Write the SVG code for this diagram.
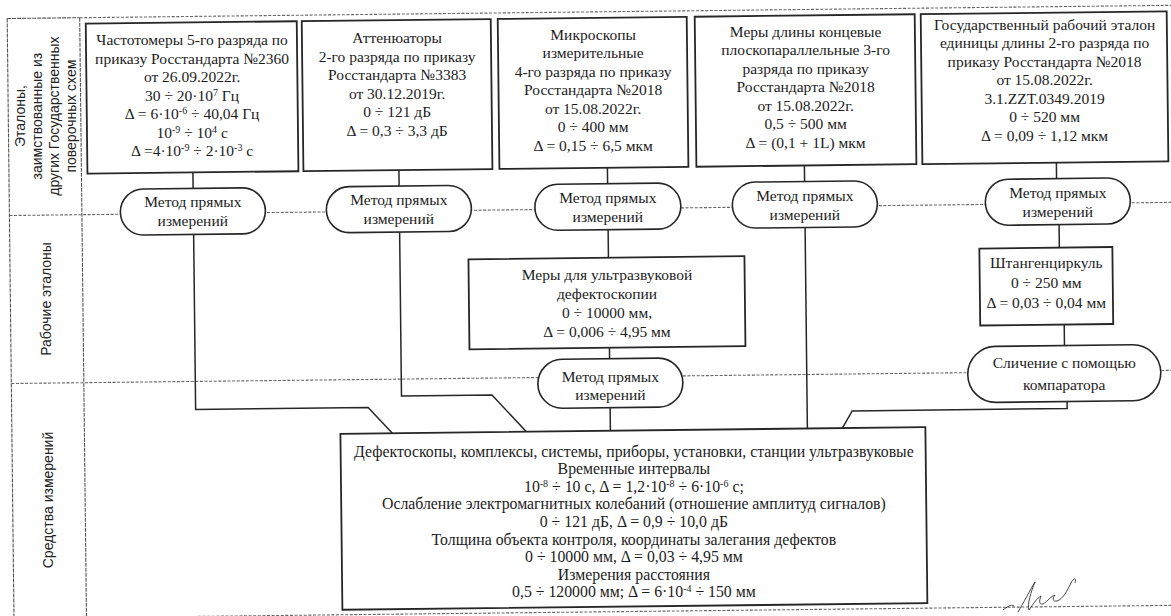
<svg xmlns="http://www.w3.org/2000/svg" width="1171" height="616" viewBox="0 0 1171 616">
<style>
.bx{fill:#fff;stroke:#262626;stroke-width:1.8}
.ov{fill:#fff;stroke:#262626;stroke-width:1.6}
.cn{fill:none;stroke:#262626;stroke-width:1.5}
.dv{fill:none;stroke:#666;stroke-width:1.1;stroke-dasharray:3 1.6}
.fr{fill:none;stroke:#555;stroke-width:1.1;stroke-dasharray:4 1}
.t{font-family:"Liberation Serif","Times New Roman",serif;font-size:15.5px;fill:#1c1c1c;text-anchor:middle}
.tb{font-size:15.8px}
.l{font-family:"Liberation Sans",Arial,sans-serif;font-size:14px;fill:#222;text-anchor:middle}
.sp{font-size:10px}
</style>
<rect width="1171" height="616" fill="#fff"/>
<g id="grid" transform="rotate(-0.65 585 308)">
<path class="dv" d="M83 12H1190M10.5 209H1190M10.5 377H1190M10.5 612H1190"/>
<path class="fr" d="M10.5 12H83M10.5 12V630M83 12V630"/>
</g>
<g id="lane-labels">
<g transform="translate(-2.2 6.1)">
<text class="l" transform="translate(27 110) rotate(-90)">Эталоны,</text>
<text class="l" transform="translate(44 110) rotate(-90)">заимствованные из</text>
<text class="l" transform="translate(61 110) rotate(-90)">других Государственных</text>
<text class="l" transform="translate(78 110) rotate(-90)">поверочных схем</text>
</g>
<text class="l" transform="translate(51 299) rotate(-90)">Рабочие эталоны</text>
<text class="l" transform="translate(53 500) rotate(-90)">Средства измерений</text>
</g>
<g id="connectors" transform="rotate(-0.65 585 308)">
<path class="cn" d="M194.5 168V184M194.5 230V405H367L391 431"/>
<path class="cn" d="M400.5 168V184M400.5 230V394H491L525 431"/>
<path class="cn" d="M609 167V184M609 230V258M609 348V359M609 408V431"/>
<path class="cn" d="M806 168V184M806 230V431"/>
<path class="cn" d="M1058 168V184M1060 230V253M1064 330V351M1066 407V414H851L841 431"/>
</g>
<g id="b1">
<rect class="bx" transform="rotate(-0.65 585 308)" x="89" y="18" width="211" height="150"/>
<g transform="translate(-2.4 4.4)">
<text class="t" x="194.5" y="41">Частотомеры 5-го разряда по</text>
<text class="t" x="194.5" y="59.5">приказу Росстандарта №2360</text>
<text class="t" x="194.5" y="78">от 26.09.2022г.</text>
<text class="t" x="194.5" y="96.5">30 ÷ 20·10<tspan class="sp" dy="-5">7</tspan><tspan dy="5"> Гц</tspan></text>
<text class="t" x="194.5" y="115">Δ = 6·10<tspan class="sp" dy="-5">-6</tspan><tspan dy="5"> ÷ 40,04 Гц</tspan></text>
<text class="t" x="194.5" y="133.5">10<tspan class="sp" dy="-5">-9</tspan><tspan dy="5"> ÷ 10</tspan><tspan class="sp" dy="-5">4</tspan><tspan dy="5"> с</tspan></text>
<text class="t" x="194.5" y="152">Δ =4·10<tspan class="sp" dy="-5">-9</tspan><tspan dy="5"> ÷ 2·10</tspan><tspan class="sp" dy="-5">-3</tspan><tspan dy="5"> с</tspan></text>
</g>
</g>
<g id="b2">
<rect class="bx" transform="rotate(-0.65 585 308)" x="305" y="18" width="189" height="150"/>
<g transform="translate(-2.4 2.1)">
<text class="t" x="399.5" y="41">Аттенюаторы</text>
<text class="t" x="399.5" y="59.5">2-го разряда по приказу</text>
<text class="t" x="399.5" y="78">Росстандарта №3383</text>
<text class="t" x="399.5" y="96.5">от 30.12.2019г.</text>
<text class="t" x="399.5" y="115">0 ÷ 121 дБ</text>
<text class="t" x="399.5" y="133.5">Δ = 0,3 ÷ 3,3 дБ</text>
</g>
</g>
<g id="b3">
<rect class="bx" transform="rotate(-0.65 585 308)" x="501" y="18" width="189" height="150"/>
<g transform="translate(-2.4 -0.1)">
<text class="t" x="595.5" y="40">Микроскопы</text>
<text class="t" x="595.5" y="58.5">измерительные</text>
<text class="t" x="595.5" y="77">4-го разряда по приказу</text>
<text class="t" x="595.5" y="95.5">Росстандарта №2018</text>
<text class="t" x="595.5" y="114">от 15.08.2022г.</text>
<text class="t" x="595.5" y="132.5">0 ÷ 400 мм</text>
<text class="t" x="595.5" y="151">Δ = 0,15 ÷ 6,5 мкм</text>
</g>
</g>
<g id="b4">
<rect class="bx" transform="rotate(-0.65 585 308)" x="698" y="18" width="220" height="150"/>
<g transform="translate(-2.4 -2.5)">
<text class="t" x="808" y="39">Меры длины концевые</text>
<text class="t" x="808" y="57.5">плоскопараллельные 3-го</text>
<text class="t" x="808" y="76">разряда по приказу</text>
<text class="t" x="808" y="94.5">Росстандарта №2018</text>
<text class="t" x="808" y="113">от 15.08.2022г.</text>
<text class="t" x="808" y="131.5">0,5 ÷ 500 мм</text>
<text class="t" x="808" y="150">Δ = (0,1 + 1L) мкм</text>
</g>
</g>
<g id="b5">
<rect class="bx" transform="rotate(-0.65 585 308)" x="924" y="18" width="246" height="150"/>
<g transform="translate(-2.4 -5.2)">
<text class="t" x="1047" y="35">Государственный рабочий эталон</text>
<text class="t" x="1047" y="53.5">единицы длины 2-го разряда по</text>
<text class="t" x="1047" y="72">приказу Росстандарта №2018</text>
<text class="t" x="1047" y="90.5">от 15.08.2022г.</text>
<text class="t" x="1047" y="109">3.1.ZZT.0349.2019</text>
<text class="t" x="1047" y="127.5">0 ÷ 520 мм</text>
<text class="t" x="1047" y="146">Δ = 0,09 ÷ 1,12 мкм</text>
</g>
</g>
<g id="o1">
<rect class="ov" transform="rotate(-0.65 585 308)" x="121.5" y="184" width="145" height="46" rx="23"/>
<g transform="translate(-1.2 4.4)">
<text class="t" x="194" y="203">Метод прямых</text>
<text class="t" x="194" y="222">измерений</text>
</g>
</g>
<g id="o2">
<rect class="ov" transform="rotate(-0.65 585 308)" x="327.5" y="184" width="145" height="46" rx="23"/>
<g transform="translate(-1.2 2.1)">
<text class="t" x="400" y="203">Метод прямых</text>
<text class="t" x="400" y="222">измерений</text>
</g>
</g>
<g id="o3">
<rect class="ov" transform="rotate(-0.65 585 308)" x="536" y="184" width="146" height="46" rx="23"/>
<g transform="translate(-1.2 -0.3)">
<text class="t" x="609" y="203">Метод прямых</text>
<text class="t" x="609" y="222">измерений</text>
</g>
</g>
<g id="o4">
<rect class="ov" transform="rotate(-0.65 585 308)" x="733.5" y="184" width="145" height="46" rx="23"/>
<g transform="translate(-1.2 -2.5)">
<text class="t" x="806" y="203">Метод прямых</text>
<text class="t" x="806" y="222">измерений</text>
</g>
</g>
<g id="o5">
<rect class="ov" transform="rotate(-0.65 585 308)" x="986.5" y="184" width="145" height="46" rx="23"/>
<g transform="translate(-1.2 -5.4)">
<text class="t" x="1059" y="203">Метод прямых</text>
<text class="t" x="1059" y="222">измерений</text>
</g>
</g>
<g id="m1">
<rect class="bx" transform="rotate(-0.65 585 308)" x="469" y="258" width="276" height="90"/>
<g transform="translate(0 -0.3)">
<text class="t" x="607" y="280">Меры для ультразвуковой</text>
<text class="t" x="607" y="299">дефектоскопии</text>
<text class="t" x="607" y="318">0 ÷ 10000 мм,</text>
<text class="t" x="607" y="337">Δ = 0,006 ÷ 4,95 мм</text>
</g>
</g>
<g id="o6">
<rect class="ov" transform="rotate(-0.65 585 308)" x="537" y="359" width="145" height="49" rx="24.5"/>
<g transform="translate(0.9 -0.3)">
<text class="t" x="609.5" y="382">Метод прямых</text>
<text class="t" x="609.5" y="400">измерений</text>
</g>
</g>
<g id="m2">
<rect class="bx" transform="rotate(-0.65 585 308)" x="980" y="253" width="133" height="77"/>
<g transform="translate(-0.2 -5.2)">
<text class="t" x="1046.5" y="273">Штангенциркуль</text>
<text class="t" x="1046.5" y="293">0 ÷ 250 мм</text>
<text class="t" x="1046.5" y="313">Δ = 0,03 ÷ 0,04 мм</text>
</g>
</g>
<g id="o7">
<rect class="ov" transform="rotate(-0.65 585 308)" x="967" y="351" width="193" height="56" rx="28"/>
<g transform="translate(0.8 -5.4)">
<text class="t" x="1063.5" y="373">Сличение с помощью</text>
<text class="t" x="1063.5" y="395">компаратора</text>
</g>
</g>
<g id="si">
<rect class="bx" transform="rotate(-0.65 585 308)" x="339" y="431" width="585" height="176"/>
<g transform="translate(2.4 -0.5)">
<text class="t tb" x="631.5" y="457">Дефектоскопы, комплексы, системы, приборы, установки, станции ультразвуковые</text>
<text class="t tb" x="631.5" y="474.6">Временные интервалы</text>
<text class="t tb" x="631.5" y="492.2">10<tspan class="sp" dy="-5">-8</tspan><tspan dy="5"> ÷ 10 с, Δ = 1,2·10</tspan><tspan class="sp" dy="-5">-8</tspan><tspan dy="5"> ÷ 6·10</tspan><tspan class="sp" dy="-5">-6</tspan><tspan dy="5"> с;</tspan></text>
<text class="t tb" x="631.5" y="509.8">Ослабление электромагнитных колебаний (отношение амплитуд сигналов)</text>
<text class="t tb" x="631.5" y="527.4">0 ÷ 121 дБ, Δ = 0,9 ÷ 10,0 дБ</text>
<text class="t tb" x="631.5" y="545">Толщина объекта контроля, координаты залегания дефектов</text>
<text class="t tb" x="631.5" y="562.6">0 ÷ 10000 мм, Δ = 0,03 ÷ 4,95 мм</text>
<text class="t tb" x="631.5" y="580.2">Измерения расстояния</text>
<text class="t tb" x="631.5" y="597.8">0,5 ÷ 120000 мм; Δ = 6·10<tspan class="sp" dy="-5">-4</tspan><tspan dy="5"> ÷ 150 мм</tspan></text>
</g>
</g>
<path d="M1003 610c4-3 8-6 11-4M1018 612c6-10 12-22 17-30c-4 10-8 22-6 28c4-6 8-12 12-14c-2 5-2 9 2 8c5-3 8-8 12-9c-3 4-2 7 2 6c6-2 10-10 14-18c2-5 6-6 4 0" fill="none" stroke="#444" stroke-width="1"/>
</svg>
